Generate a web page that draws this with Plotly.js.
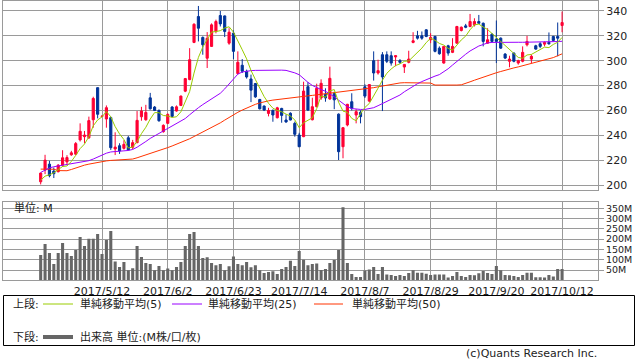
<!DOCTYPE html>
<html>
<head>
<meta charset="utf-8">
<script src="https://cdn.plot.ly/plotly-3.0.1.min.js"></script>
<style>html,body{margin:0;padding:0;background:#fff;}#chart{width:638px;height:362px;}</style>
</head>
<body>
<div id="chart"></div>
<script>
// ---- data ----
const dates = [
 "2017/4/19","2017/4/20","2017/4/21","2017/4/24","2017/4/25","2017/4/26","2017/4/27","2017/4/28",
 "2017/5/1","2017/5/2","2017/5/8","2017/5/9","2017/5/10","2017/5/11","2017/5/12",
 "2017/5/15","2017/5/16","2017/5/17","2017/5/18","2017/5/19",
 "2017/5/22","2017/5/23","2017/5/24","2017/5/25","2017/5/26",
 "2017/5/29","2017/5/30","2017/5/31","2017/6/1","2017/6/2",
 "2017/6/5","2017/6/6","2017/6/7","2017/6/8","2017/6/9",
 "2017/6/12","2017/6/13","2017/6/14","2017/6/15","2017/6/16",
 "2017/6/19","2017/6/20","2017/6/21","2017/6/22","2017/6/23",
 "2017/6/26","2017/6/27","2017/6/28","2017/6/29","2017/6/30",
 "2017/7/3","2017/7/4","2017/7/5","2017/7/6","2017/7/7",
 "2017/7/10","2017/7/11","2017/7/12","2017/7/13","2017/7/14",
 "2017/7/18","2017/7/19","2017/7/20","2017/7/21",
 "2017/7/24","2017/7/25","2017/7/26","2017/7/27","2017/7/28",
 "2017/7/31","2017/8/1","2017/8/2","2017/8/3","2017/8/4",
 "2017/8/7","2017/8/8","2017/8/9","2017/8/10",
 "2017/8/14","2017/8/15","2017/8/16","2017/8/17","2017/8/18",
 "2017/8/21","2017/8/22","2017/8/23","2017/8/24","2017/8/25",
 "2017/8/28","2017/8/29","2017/8/30","2017/8/31","2017/9/1",
 "2017/9/4","2017/9/5","2017/9/6","2017/9/7","2017/9/8",
 "2017/9/11","2017/9/12","2017/9/13","2017/9/14","2017/9/15",
 "2017/9/19","2017/9/20","2017/9/21","2017/9/22",
 "2017/9/25","2017/9/26","2017/9/27","2017/9/28","2017/9/29",
 "2017/10/2","2017/10/3","2017/10/4","2017/10/5","2017/10/6",
 "2017/10/10","2017/10/11","2017/10/12"
];
const tickDates = ["2017/5/12","2017/6/2","2017/6/23","2017/7/14","2017/8/7","2017/8/29","2017/9/20","2017/10/12"];

const open = [202.6,212.0,216.8,211.2,210.7,216.0,218.6,224.3,224.8,236.3,
 238.9,238.0,252.5,278.3,255.2,253.1,254.2,229.0,231.6,229.5,
 238.0,230.4,234.1,254.9,252.5,270.1,262.7,260.0,242.9,249.6,
 262.7,259.5,264.0,275.5,284.8,314.7,335.5,318.7,302.0,311.5,
 323.5,336.3,336.0,314.1,322.1,289.6,296.3,291.5,285.3,281.6,
 268.8,263.5,257.6,260.0,254.1,261.6,252.3,257.7,249.6,240.2,
 238.9,279.1,252.5,263.0,270.0,273.0,269.2,273.5,257.0,230.8,
 248.3,267.0,256.3,258.5,279.0,267.5,300.0,290.1,304.8,304.8,
 304.0,303.0,300.0,294.9,298.7,314.7,320.0,320.0,324.8,316.8,
 319.5,310.1,298.1,312.0,306.7,314.1,324.3,328.0,327.5,328.8,
 331.5,330.1,314.1,321.3,317.3,318.1,305.3,299.5,306.1,298.1,
 299.5,312.8,301.3,312.0,313.6,313.3,314.7,319.5,319.5,328.3];
const high = [210.0,224.3,219.4,214.1,216.8,228.0,224.0,227.5,234.6,249.6,
 243.5,255.0,271.0,278.5,255.6,264.0,255.0,242.4,233.6,236.0,
 239.5,236.3,259.5,262.9,264.5,274.1,263.5,260.8,248.8,257.6,
 263.5,264.0,272.0,286.1,310.1,330.1,344.0,319.5,323.0,330.0,
 333.0,340.0,336.3,326.1,324.3,307.5,301.3,292.8,288.8,282.1,
 269.3,264.0,262.1,260.8,262.9,262.1,256.8,258.5,251.0,242.0,
 283.1,282.7,270.2,281.5,285.0,277.8,295.2,275.0,257.6,246.5,
 265.3,273.8,261.0,260.0,281.0,281.1,307.5,300.8,306.9,307.5,
 307.5,304.5,301.3,297.0,308.0,322.9,324.0,323.5,325.3,322.1,
 320.0,311.5,311.5,312.8,318.1,328.0,327.5,329.6,337.6,334.1,
 336.8,330.7,326.1,322.1,332.3,318.7,306.1,304.0,306.7,300.8,
 311.5,320.0,305.0,312.8,314.9,315.5,322.7,320.0,330.7,339.5];
const low = [200.5,208.8,206.2,205.6,210.2,214.7,216.0,223.5,224.0,235.0,
 233.6,237.0,246.1,253.6,254.8,246.1,228.2,224.1,225.0,228.5,
 228.0,228.8,233.6,251.7,251.7,260.7,259.5,250.9,242.1,249.0,
 254.6,259.0,263.5,274.7,284.3,314.1,315.5,304.8,294.1,311.0,
 322.0,327.5,319.0,312.8,301.3,289.6,290.1,285.6,266.7,270.1,
 260.8,259.5,255.2,250.9,253.6,250.1,250.1,252.0,238.9,230.5,
 238.5,259.5,252.0,262.5,268.5,267.0,268.5,261.0,220.1,221.5,
 247.2,260.0,249.6,249.6,270.0,266.7,284.0,288.8,259.5,298.1,
 296.0,295.5,297.5,290.1,297.9,314.0,317.0,316.8,318.9,314.1,
 306.7,304.8,297.6,304.0,306.1,313.6,323.5,326.1,326.9,327.5,
 329.6,311.5,313.6,314.9,298.1,309.6,301.3,294.7,298.7,296.8,
 298.7,311.5,298.1,308.8,310.1,311.5,312.8,315.5,303.5,322.9];
const close = [209.6,220.0,207.5,209.1,216.0,221.9,222.1,225.9,233.3,243.2,
 240.2,251.8,269.6,256.9,255.4,262.2,230.0,230.5,227.4,232.7,
 228.2,234.1,252.0,259.5,258.4,261.3,260.0,251.7,248.0,256.8,
 255.2,262.9,271.5,285.6,300.8,329.3,326.1,312.8,318.0,328.8,
 331.5,329.6,323.5,322.9,307.5,298.7,291.5,286.9,276.3,270.9,
 261.3,260.3,260.0,256.3,262.1,256.0,250.7,252.3,240.8,230.8,
 275.6,260.3,263.0,277.8,281.8,270.0,285.8,268.5,226.8,246.1,
 264.9,261.7,259.0,255.0,271.5,280.8,290.1,292.0,286.9,299.5,
 298.1,304.0,298.7,297.0,301.3,316.0,318.1,318.1,319.5,318.7,
 307.5,305.6,311.5,306.1,311.5,327.5,326.9,326.9,331.5,331.5,
 330.1,315.5,316.8,315.5,315.5,310.1,302.1,301.3,299.5,300.0,
 306.7,315.5,303.5,309.3,311.5,314.7,313.6,316.3,318.1,330.7];
// closes of the four sessions before the first shown day (for the 5-day average)
const priorClose = [204.0,202.0,201.0,203.0];

const ma25 = [210.1,212.3,213.8,214.7,215.3,215.9,216.3,216.7,217.2,217.8,
 218.6,219.6,220.9,222.5,224.1,225.6,226.6,227.1,227.3,227.5,
 227.8,228.6,230.4,232.5,235.0,237.5,239.5,241.5,243.5,245.5,
 247.4,249.3,251.3,253.5,256.5,259.5,262.2,264.7,267.1,269.4,
 271.5,273.8,277.3,281.5,285.6,289.2,290.9,291.7,292.0,292.2,
 292.3,292.3,292.3,292.4,292.4,292.4,292.2,291.5,290.2,288.7,
 285.5,282.6,280.1,278.3,276.8,275.4,273.4,271.0,268.2,265.3,
 263.0,261.5,261.0,260.8,260.8,261.2,262.2,263.8,265.5,267.0,
 268.6,270.2,272.4,275.0,277.2,279.6,281.5,283.2,284.8,286.3,
 287.6,288.8,290.8,293.5,296.5,299.5,302.6,305.2,307.8,310.1,
 311.8,313.0,314.3,314.7,314.8,314.8,314.8,314.8,314.8,314.8,
 314.8,314.8,314.8,314.8,314.8,314.9,315.0,315.2,315.4,315.6];
const ma50 = [212.8,212.8,212.8,212.7,211.6,211.5,211.5,212.5,213.8,215.0,
 216.0,216.8,217.6,218.4,219.0,219.4,219.8,220.1,220.3,220.5,
 220.7,220.9,221.9,223.0,224.1,225.2,226.3,227.5,228.8,230.1,
 231.4,232.7,234.1,235.5,237.2,239.0,240.8,242.5,244.2,246.0,
 248.0,250.0,252.2,254.5,256.7,258.5,260.3,262.0,263.6,264.9,
 266.0,267.0,267.7,268.3,268.8,269.3,269.7,270.1,270.5,270.9,
 271.3,271.7,272.1,272.5,272.9,273.3,273.7,274.1,274.5,274.9,
 275.3,275.7,276.1,276.5,277.0,277.6,278.3,279.0,279.7,280.4,
 281.0,281.6,282.1,282.3,282.3,282.2,282.1,282.1,282.1,282.0,
 280.4,280.3,280.3,280.3,280.3,280.4,280.6,281.5,283.0,284.3,
 285.6,286.9,288.1,289.3,290.3,291.3,292.4,293.3,294.2,295.0,
 295.9,296.8,297.7,298.6,299.5,300.3,301.0,302.5,304.0,305.5];
const volume = [123,176,133,79,133,181,133,118,147,210,
 167,202,202,225,128,196,239,91,65,89,
 49,58,167,113,84,79,49,70,49,57,
 49,65,89,167,225,235,167,108,112,84,
 73,79,49,68,115,79,73,89,63,73,
 49,36,40,44,31,55,65,95,70,142,
 100,73,79,81,50,55,84,99,147,354,
 84,31,16,16,47,53,65,31,65,28,
 26,21,26,21,36,49,37,37,32,26,
 28,28,28,13,21,40,21,16,26,24,
 34,45,36,31,70,49,26,24,21,16,
 26,37,37,15,15,13,26,18,55,55];
const priceTicks = [200,220,240,260,280,300,320,340];
const volTicks = [50,100,150,200,250,300,350];
const volTickText = ["50M","100M","150M","200M","250M","300M","350M"];

// 5-day simple moving average from closes
const allClose = priorClose.concat(close);
const ma5 = close.map((c,i)=>{let s=0;for(let k=i;k<i+5;k++)s+=allClose[k];return +(s/5).toFixed(2);});

// ---- layout helpers ----
const W=638,H=362;
const px=x=>x/W, py=y=>1-y/H;
const FONT="DejaVu Sans, Noto Sans CJK JP, sans-serif";
const GRID="#9a9a9a";
const C_UP="#ff0033", C_DN="#003399";
const C5="#99cc00", C25="#9900ff", C50="#ff3300", CV="#666666";

const traces=[
 {type:'candlestick',x:dates,open:open,high:high,low:low,close:close,xaxis:'x',yaxis:'y',
  increasing:{line:{color:C_UP,width:1},fillcolor:C_UP},
  decreasing:{line:{color:C_DN,width:1},fillcolor:C_DN},
  whiskerwidth:0,hoverinfo:'skip'},
 {type:'scatter',mode:'lines',x:dates,y:ma50,xaxis:'x',yaxis:'y',line:{color:C50,width:1},hoverinfo:'skip'},
 {type:'scatter',mode:'lines',x:dates,y:ma25,xaxis:'x',yaxis:'y',line:{color:C25,width:1},hoverinfo:'skip'},
 {type:'scatter',mode:'lines',x:dates,y:ma5,xaxis:'x',yaxis:'y',line:{color:C5,width:1},hoverinfo:'skip'},
 {type:'bar',x:dates,y:volume,xaxis:'x2',yaxis:'y2',marker:{color:CV,line:{width:0}},hoverinfo:'skip'}
];

const xcommon={domain:[px(3),px(598)],type:'category',categoryorder:'array',categoryarray:dates,
 range:[-8.6,127.2],tickmode:'array',tickvals:tickDates,ticktext:tickDates,ticks:'',
 showgrid:true,gridcolor:GRID,gridwidth:1,showline:true,mirror:true,linecolor:GRID,linewidth:1,
 zeroline:false,fixedrange:true,rangeslider:{visible:false}};
const ycommon={side:'right',ticks:'outside',ticklen:5,tickcolor:GRID,tickwidth:1,
 showgrid:true,gridcolor:GRID,gridwidth:1,showline:true,mirror:true,linecolor:GRID,linewidth:1,
 zeroline:false,fixedrange:true,tickfont:{size:11,color:'#222'}};

const ann=(text,x,y,opts)=>Object.assign({text:text,x:px(x),y:py(y),xref:'paper',yref:'paper',
 xanchor:'left',yanchor:'middle',showarrow:false,font:{size:11,color:'#222',family:FONT}},opts||{});
const hline=(x0,x1,y,color,w)=>({type:'line',xref:'paper',yref:'paper',x0:px(x0),x1:px(x1),y0:py(y),y1:py(y),line:{color:color,width:w}});

const layout={
 width:W,height:H,margin:{l:0,r:0,t:0,b:0},showlegend:false,
 paper_bgcolor:'#fff',plot_bgcolor:'#fff',
 font:{family:FONT,size:11,color:'#222'},
 bargap:0.3,
 xaxis:Object.assign({},xcommon,{anchor:'y',showticklabels:false}),
 xaxis2:Object.assign({},xcommon,{anchor:'y2',showticklabels:true,tickfont:{size:11,color:'#222'}}),
 yaxis:Object.assign({},ycommon,{domain:[py(190),py(1)],anchor:'x',range:[196,348],tickmode:'array',tickvals:priceTicks}),
 yaxis2:Object.assign({},ycommon,{domain:[py(280.3),py(202)],anchor:'x2',range:[0,380],tickmode:'array',tickvals:volTicks,ticktext:volTickText,tickfont:{size:9.5,color:'#222'}}),
 shapes:[
  {type:'rect',xref:'paper',yref:'paper',x0:px(3.5),x1:px(634.5),y0:py(295.5),y1:py(345.5),line:{color:'#000',width:1},fillcolor:'rgba(0,0,0,0)'},
  hline(43,73,304,C5,1),
  hline(172,202,304,C25,1),
  hline(314,343,304,C50,1),
  hline(43,73,337,CV,4)
 ],
 annotations:[
  ann('単位: M',12,208),
  ann('上段:',11,304),
  ann('単純移動平均(5)',78,304),
  ann('単純移動平均(25)',206,304),
  ann('単純移動平均(50)',350,304),
  ann('下段:',11,337),
  ann('出来高 単位:(M株/口/枚)',78,337),
  ann('(c)Quants Research Inc.',599,353.5,{xanchor:'right'})
 ]
};
Plotly.newPlot('chart',traces,layout,{staticPlot:true,displayModeBar:false});
</script>
</body>
</html>
